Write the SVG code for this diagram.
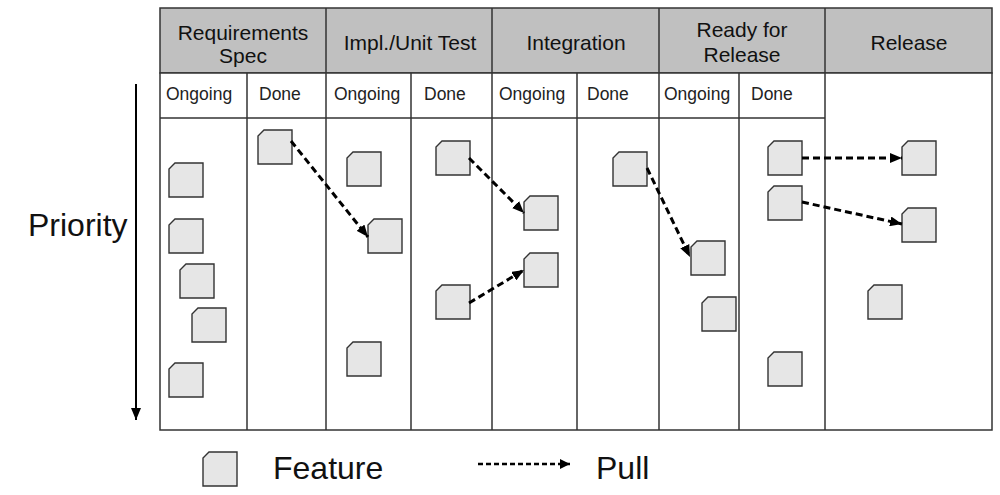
<svg xmlns="http://www.w3.org/2000/svg" width="1000" height="495" viewBox="0 0 1000 495">
<style>
.grid{stroke:#333;stroke-width:1.5;fill:none}
.hdr{fill:#c0c0c0;stroke:#333;stroke-width:1.5}
.ht{font-family:"Liberation Sans",Arial,sans-serif;font-size:21px;fill:#111;text-anchor:middle}
.st{font-family:"Liberation Sans",Arial,sans-serif;font-size:17.5px;fill:#222}
.big{font-family:"Liberation Sans",Arial,sans-serif;font-size:32px;fill:#111}
.card{fill:#e6e6e6;stroke:#333;stroke-width:1.4}
.pull{stroke:#000;stroke-width:3;stroke-dasharray:7 4;fill:none}
</style>
<defs>
<path id="cd" d="M6,0 L34,0 L34,34 L0,34 L0,6 Z"/>
<marker id="ah" viewBox="0 0 12 10" refX="12" refY="5" markerWidth="12" markerHeight="10" markerUnits="userSpaceOnUse" orient="auto">
<path d="M0,0 L12,5 L0,10 Z" fill="#000"/>
</marker>
<marker id="ah2" viewBox="0 0 10 10" refX="10" refY="5" markerWidth="10" markerHeight="10" markerUnits="userSpaceOnUse" orient="auto">
<path d="M0,0 L10,5 L0,10 Z" fill="#000"/>
</marker>
</defs>
<rect width="1000" height="495" fill="#fff"/>
<g id="board">
<rect class="hdr" x="160" y="8" width="832" height="65"/>
<rect x="160" y="73" width="832" height="357" fill="#fff" stroke="#333" stroke-width="1.5"/>
<line class="grid" x1="160" y1="118" x2="825" y2="118"/>
<line class="grid" x1="326" y1="8" x2="326" y2="430"/>
<line class="grid" x1="492" y1="8" x2="492" y2="430"/>
<line class="grid" x1="659" y1="8" x2="659" y2="430"/>
<line class="grid" x1="825" y1="8" x2="825" y2="430"/>
<line class="grid" x1="247" y1="73" x2="247" y2="430"/>
<line class="grid" x1="411" y1="73" x2="411" y2="430"/>
<line class="grid" x1="577" y1="73" x2="577" y2="430"/>
<line class="grid" x1="739" y1="73" x2="739" y2="430"/>
<text class="ht" x="243" y="40">Requirements</text>
<text class="ht" x="243" y="63">Spec</text>
<text class="ht" x="410" y="50">Impl./Unit Test</text>
<text class="ht" x="576" y="50">Integration</text>
<text class="ht" x="742" y="37">Ready for</text>
<text class="ht" x="742" y="62">Release</text>
<text class="ht" x="909" y="50">Release</text>
<text class="st" x="166" y="100">Ongoing</text>
<text class="st" x="259" y="100">Done</text>
<text class="st" x="334" y="100">Ongoing</text>
<text class="st" x="424" y="100">Done</text>
<text class="st" x="499" y="100">Ongoing</text>
<text class="st" x="587" y="100">Done</text>
<text class="st" x="664" y="100">Ongoing</text>
<text class="st" x="751" y="100">Done</text>
</g>
<g id="priority">
<text class="big" x="28" y="236" font-size="33">Priority</text>
<line x1="136" y1="84" x2="136" y2="420" stroke="#000" stroke-width="2" marker-end="url(#ah)"/>
</g>
<g id="cards">
<use href="#cd" class="card" x="169" y="163"/>
<use href="#cd" class="card" x="169" y="219"/>
<use href="#cd" class="card" x="180" y="264"/>
<use href="#cd" class="card" x="192" y="308"/>
<use href="#cd" class="card" x="169" y="363"/>
<use href="#cd" class="card" x="258" y="130"/>
<use href="#cd" class="card" x="347" y="152"/>
<use href="#cd" class="card" x="347" y="342"/>
<use href="#cd" class="card" x="368" y="219"/>
<use href="#cd" class="card" x="436" y="141"/>
<use href="#cd" class="card" x="436" y="285"/>
<use href="#cd" class="card" x="524" y="196"/>
<use href="#cd" class="card" x="524" y="253"/>
<use href="#cd" class="card" x="613" y="152"/>
<use href="#cd" class="card" x="691" y="241"/>
<use href="#cd" class="card" x="702" y="297"/>
<use href="#cd" class="card" x="768" y="141"/>
<use href="#cd" class="card" x="768" y="186"/>
<use href="#cd" class="card" x="768" y="352"/>
<use href="#cd" class="card" x="902" y="141"/>
<use href="#cd" class="card" x="902" y="208"/>
<use href="#cd" class="card" x="868" y="285"/>
</g>
<g id="connectors">
<line class="pull" x1="291" y1="141" x2="368" y2="237" marker-end="url(#ah)"/>
<line class="pull" x1="469" y1="158" x2="524" y2="213" marker-end="url(#ah)"/>
<line class="pull" x1="469" y1="303" x2="524" y2="270" marker-end="url(#ah)"/>
<line class="pull" x1="647" y1="168" x2="690" y2="257" marker-end="url(#ah)"/>
<line class="pull" x1="802" y1="158" x2="902" y2="158" marker-end="url(#ah)"/>
<line class="pull" x1="802" y1="202" x2="902" y2="224" marker-end="url(#ah)"/>
</g>
<g id="legend">
<use href="#cd" class="card" x="203" y="452"/>
<text class="big" x="273" y="479">Feature</text>
<line x1="478" y1="464" x2="570" y2="464" stroke="#000" stroke-width="2.5" stroke-dasharray="5 3" marker-end="url(#ah2)"/>
<text class="big" x="596" y="479">Pull</text>
</g>
</svg>
